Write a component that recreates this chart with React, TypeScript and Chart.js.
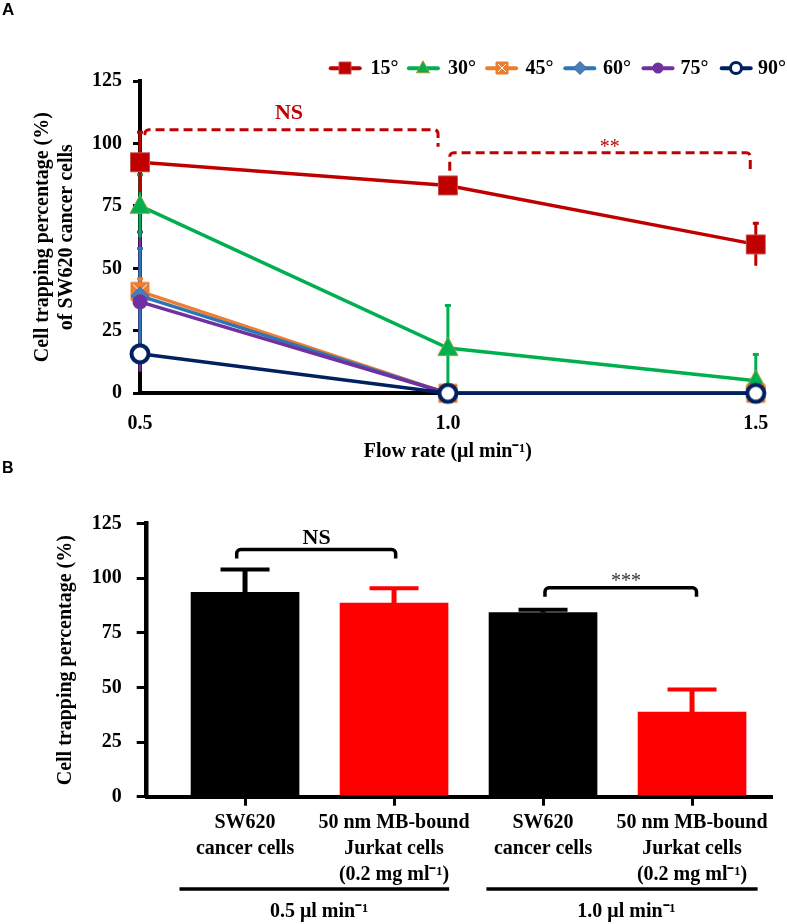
import React, { useEffect, useRef } from "react";
import { Chart, registerables } from "chart.js";

Chart.register(...registerables);

const SERIF = "'Liberation Serif', 'Times New Roman', Times, serif";

// ---------------- Panel A data ----------------
const flowRates = [0.5, 1.0, 1.5];
const angleLabels = ["15°", "30°", "45°", "60°", "75°", "90°"];
const trapping15 = [92.5, 83.2, 59.6];
const trapping30 = [75.0, 18.1, 5.0];
const trapping45 = [40.8, 0, 0];
const trapping60 = [39.0, 0, 0];
const trapping75 = [36.6, 0, 0];
const trapping90 = [15.8, 0, 0];
const error15 = [12.0, 2.0, 8.5];
const error30 = [12.5, 17.0, 10.5];
const error45 = [5.0, 0, 0];
const error60 = [19.0, 0, 0];
const error75 = [28.0, 0, 0];
const error90 = [2.0, 0, 0];
const flowTicksA = [0.5, 1.0, 1.5];
const percentTicks = [0, 25, 50, 75, 100, 125];

const valuesA = [trapping15, trapping30, trapping45, trapping60, trapping75, trapping90];
const errorsA = [error15, error30, error45, error60, error75, error90];
const angleColors = ["#C00000", "#00B050", "#ED7D31", "#2E75B6", "#7030A0", "#002060"];

const sigA = [
  { label: "NS", from: 0.508, to: 0.984, top: 105.5, leftEnd: 104.4, rightEnd: 98.7, textX: 0.742, textY: 112, font: `bold 22px ${SERIF}` },
  { label: "**", from: 1.003, to: 1.491, top: 96.3, leftEnd: 89.1, rightEnd: 89.6, textX: 1.263, textY: 98.2, font: `20px ${SERIF}` },
];

// ---------------- Panel B data ----------------
const cellGroups = [
  ["SW620", "cancer cells"],
  ["50 nm MB-bound", "Jurkat cells", "(0.2 mg ml⁻¹)"],
  ["SW620", "cancer cells"],
  ["50 nm MB-bound", "Jurkat cells", "(0.2 mg ml⁻¹)"],
];
const barPositions = [0, 1, 2, 3];
const trappingB = [93.6, 88.6, 84.3, 38.7];
const errorB = [10.4, 6.8, 1.3, 10.4];
const barColorsB = ["#000000", "#FF0000", "#000000", "#FF0000"];
const flowGroupLabels = ["0.5 μl min⁻¹", "1.0 μl min⁻¹"];
const flowGroupSpans = [[-0.44, 1.37], [1.62, 3.44]];
const flowGroupCenters = [0.497, 2.56];

const sigB = [
  { label: "NS", from: -0.056, to: 1.011, top: 113.2, leftEnd: 109.1, rightEnd: 109.1, textX: 0.48, textY: 118.4, font: `bold 22px ${SERIF}`, color: "#000" },
  { label: "***", from: 2.013, to: 3.03, top: 95.7, leftEnd: 91.5, rightEnd: 91.5, textX: 2.557, textY: 98.2, font: `20px ${SERIF}`, color: "#333" },
];

// ---------------- helpers ----------------
function makeMarker(kind: string, size: number, fill: string, stroke: string, lw = 1): HTMLCanvasElement {
  const s = 2 * Math.ceil(size / 2) + 4;
  const c = document.createElement("canvas");
  c.width = s;
  c.height = s;
  const g = c.getContext("2d")!;
  const m = s / 2;
  const h = size / 2;
  g.lineWidth = lw;
  g.fillStyle = fill;
  g.strokeStyle = stroke;
  g.beginPath();
  if (kind === "square" || kind === "squareX") {
    g.rect(m - h, m - h, size, size);
    g.fill();
    g.stroke();
    if (kind === "squareX") {
      g.beginPath();
      g.strokeStyle = "#ffffff";
      g.lineWidth = 1;
      g.moveTo(m - h + 2, m - h + 2);
      g.lineTo(m + h - 2, m + h - 2);
      g.moveTo(m + h - 2, m - h + 2);
      g.lineTo(m - h + 2, m + h - 2);
      g.stroke();
    }
  } else if (kind === "triangle") {
    const H = size * 0.92;
    g.moveTo(m, m - H * 0.6);
    g.lineTo(m + h, m + H * 0.4);
    g.lineTo(m - h, m + H * 0.4);
    g.closePath();
    g.fill();
    g.stroke();
  } else if (kind === "diamond") {
    g.moveTo(m, m - h);
    g.lineTo(m + h, m);
    g.lineTo(m, m + h);
    g.lineTo(m - h, m);
    g.closePath();
    g.fill();
    g.stroke();
  } else if (kind === "dot") {
    g.arc(m, m, h, 0, Math.PI * 2);
    g.fill();
  } else if (kind === "ring") {
    g.arc(m, m, h - lw / 2, 0, Math.PI * 2);
    g.fillStyle = "#ffffff";
    g.fill();
    g.stroke();
  }
  return c;
}

function buildMarkers(big: boolean): HTMLCanvasElement[] {
  return [
    makeMarker("square", big ? 19 : 12, "#C00000", "#C65050", 1),
    makeMarker("triangle", big ? 20 : 13, "#00B050", "#9A9A3A", 1),
    makeMarker("squareX", big ? 18 : 12, "#ED7D31", "#ED7D31", 1),
    makeMarker("diamond", big ? 18 : 13, "#4A7EBB", "#3A6EA8", 1),
    makeMarker("dot", big ? 15 : 11, "#7030A0", "#7030A0", 1),
    makeMarker("ring", big ? 21 : 14, "#ffffff", "#002060", big ? 4 : 3),
  ];
}

function drawSig(chart: any, list: any[], color: string | null, dash: number[], width: number) {
  const { ctx, scales } = chart;
  const x = scales.x;
  const y = scales.y;
  ctx.save();
  list.forEach((s) => {
    const x1 = x.getPixelForValue(s.from);
    const x2 = x.getPixelForValue(s.to);
    const yt = y.getPixelForValue(s.top);
    const yl = y.getPixelForValue(s.leftEnd);
    const yr = y.getPixelForValue(s.rightEnd);
    const c = color || "#000";
    ctx.beginPath();
    ctx.setLineDash(dash);
    ctx.lineWidth = width;
    ctx.strokeStyle = c;
    ctx.lineJoin = "round";
    ctx.moveTo(x1, yl);
    ctx.arcTo(x1, yt, x2, yt, 4);
    ctx.arcTo(x2, yt, x2, yr, 4);
    ctx.lineTo(x2, yr);
    ctx.stroke();
    ctx.setLineDash([]);
    ctx.fillStyle = s.color || c;
    ctx.font = s.font;
    ctx.textAlign = "center";
    ctx.textBaseline = "middle";
    ctx.fillText(s.label, x.getPixelForValue(s.textX), y.getPixelForValue(s.textY));
  });
  ctx.restore();
}

const boldFont = (size: number, lineHeight = 1.2) => ({ family: SERIF, size, weight: "bold" as const, lineHeight });

export default function App() {
  const refA = useRef<HTMLCanvasElement>(null);
  const refB = useRef<HTMLCanvasElement>(null);

  useEffect(() => {
    const bigMarkers = buildMarkers(true);
    const smallMarkers = buildMarkers(false);

    const errorBarsA = {
      id: "errorBarsA",
      beforeDatasetsDraw(chart: any) {
        const { ctx, scales } = chart;
        ctx.save();
        for (let i = valuesA.length - 1; i >= 0; i--) {
          ctx.strokeStyle = angleColors[i];
          ctx.lineWidth = 3;
          flowRates.forEach((fr, j) => {
            const e = errorsA[i][j];
            if (!e) return;
            const v = valuesA[i][j];
            const px = scales.x.getPixelForValue(fr);
            const top = scales.y.getPixelForValue(v + e);
            const bot = scales.y.getPixelForValue(Math.max(0, v - e));
            ctx.beginPath();
            ctx.moveTo(px, top);
            ctx.lineTo(px, bot);
            ctx.moveTo(px - 3, top);
            ctx.lineTo(px + 3, top);
            ctx.stroke();
          });
        }
        ctx.restore();
      },
    };

    const legendA = {
      id: "legendA",
      afterDraw(chart: any) {
        const ctx = chart.ctx;
        const y0 = 68.3;
        ctx.save();
        chart.data.datasets.forEach((ds: any, i: number) => {
          const x = 330.7 + i * 78.2;
          ctx.beginPath();
          ctx.strokeStyle = ds.borderColor;
          ctx.lineWidth = 4;
          ctx.lineCap = "round";
          ctx.moveTo(x, y0);
          ctx.lineTo(x + 29, y0);
          ctx.stroke();
          const mk = smallMarkers[i];
          ctx.drawImage(mk, Math.round(x + 14.5 - mk.width / 2), Math.round(y0 - mk.height / 2));
          ctx.fillStyle = "#000";
          ctx.font = `bold 20px ${SERIF}`;
          ctx.textAlign = "left";
          ctx.textBaseline = "middle";
          ctx.fillText(ds.label, 370.5 + i * 77.5, y0 + 1);
        });
        ctx.restore();
      },
    };

    const sigPluginA = {
      id: "sigA",
      afterDatasetsDraw(chart: any) {
        drawSig(chart, sigA, "#C00000", [9, 5], 3);
      },
    };

    const chartA = new Chart(refA.current!, {
      type: "line",
      data: {
        datasets: angleLabels.map((label, i) => ({
          label,
          data: flowRates.map((fr, j) => ({ x: fr, y: valuesA[i][j] })),
          borderColor: angleColors[i],
          backgroundColor: angleColors[i],
          borderWidth: 3.5,
          pointStyle: bigMarkers[i] as any,
          pointRadius: 9,
          pointHoverRadius: 9,
          tension: 0,
          clip: false as any,
          order: 5 - i,
        })),
      },
      options: {
        animation: false,
        responsive: false,
        events: [],
        layout: { padding: { top: 81, right: 20.3, left: 0, bottom: 0 } },
        plugins: { legend: { display: false }, tooltip: { enabled: false } },
        scales: {
          x: {
            type: "linear",
            min: 0.5,
            max: 1.5,
            afterBuildTicks: (s: any) => {
              s.ticks = flowTicksA.map((v) => ({ value: v }));
            },
            ticks: {
              callback: (v: any) => Number(v).toFixed(1),
              font: boldFont(20),
              color: "#000",
              padding: 18.7,
              maxRotation: 0,
            },
            grid: { display: true, drawOnChartArea: false, drawTicks: false },
            border: { display: true, color: "#000", width: 4 },
            title: {
              display: true,
              text: "Flow rate (μl min⁻¹)",
              font: boldFont(20),
              color: "#000",
              padding: { top: 0, bottom: 6 },
            },
            afterFit: (s: any) => {
              s.height = 76.7;
            },
          },
          y: {
            min: 0,
            max: 125,
            afterBuildTicks: (s: any) => {
              s.ticks = percentTicks.map((v) => ({ value: v }));
            },
            ticks: { font: boldFont(20), color: "#000", padding: 11 },
            grid: { drawOnChartArea: false, drawTicks: true, tickLength: 7, lineWidth: 3, color: "#000" },
            border: { display: true, color: "#000", width: 4 },
            title: {
              display: true,
              text: ["Cell trapping percentage (%)", "of SW620 cancer cells"],
              font: boldFont(20, 1.17),
              color: "#000",
              padding: { top: 31.6, bottom: 0 },
            },
            afterFit: (s: any) => {
              s.width = 140;
            },
          },
        },
      } as any,
      plugins: [errorBarsA, sigPluginA, legendA],
    });

    const errorBarsB = {
      id: "errorBarsB",
      afterDatasetsDraw(chart: any) {
        const { ctx, scales } = chart;
        ctx.save();
        barPositions.forEach((p, i) => {
          const px = scales.x.getPixelForValue(p);
          const base = scales.y.getPixelForValue(trappingB[i]);
          const top = scales.y.getPixelForValue(trappingB[i] + errorB[i]);
          ctx.strokeStyle = barColorsB[i];
          ctx.lineWidth = 5;
          ctx.beginPath();
          ctx.moveTo(px, base);
          ctx.lineTo(px, top);
          ctx.stroke();
          ctx.lineWidth = 4;
          ctx.beginPath();
          ctx.moveTo(px - 24.5, top);
          ctx.lineTo(px + 24.5, top);
          ctx.stroke();
        });
        ctx.restore();
      },
    };

    const sigPluginB = {
      id: "sigB",
      afterDatasetsDraw(chart: any) {
        drawSig(chart, sigB, "#000", [], 3.5);
      },
    };

    const groupsB = {
      id: "groupsB",
      afterDraw(chart: any) {
        const { ctx, scales, chartArea } = chart;
        ctx.save();
        flowGroupLabels.forEach((label, g) => {
          const [a, b] = flowGroupSpans[g];
          const yl = chartArea.bottom + 92.3;
          ctx.beginPath();
          ctx.strokeStyle = "#000";
          ctx.lineWidth = 3.5;
          ctx.moveTo(scales.x.getPixelForValue(a), yl);
          ctx.lineTo(scales.x.getPixelForValue(b), yl);
          ctx.stroke();
          ctx.fillStyle = "#000";
          ctx.font = `bold 20px ${SERIF}`;
          ctx.textAlign = "center";
          ctx.textBaseline = "middle";
          ctx.fillText(label, scales.x.getPixelForValue(flowGroupCenters[g]), chartArea.bottom + 115.3);
        });
        ctx.restore();
      },
    };

    const chartB = new Chart(refB.current!, {
      type: "bar",
      data: {
        datasets: [
          {
            data: barPositions.map((p, i) => ({ x: p, y: trappingB[i] })),
            backgroundColor: barColorsB,
            borderWidth: 0,
            barThickness: 108,
          },
        ],
      },
      options: {
        animation: false,
        responsive: false,
        events: [],
        layout: { padding: { top: 53.7, right: 16, left: 0, bottom: 0 } },
        plugins: { legend: { display: false }, tooltip: { enabled: false } },
        scales: {
          x: {
            type: "linear",
            offset: false,
            min: -0.66,
            max: 3.53,
            afterBuildTicks: (s: any) => {
              s.ticks = barPositions.map((v) => ({ value: v }));
            },
            ticks: {
              callback: (v: any) => cellGroups[Math.round(Number(v))],
              font: boldFont(20, 1.3),
              color: "#000",
              padding: 4,
              maxRotation: 0,
              minRotation: 0,
              autoSkip: false,
            },
            grid: { offset: false, drawOnChartArea: false, drawTicks: true, tickLength: 9, lineWidth: 3, color: "#000" },
            border: { display: true, color: "#000", width: 4 },
            afterFit: (s: any) => {
              s.height = 127.3;
            },
          },
          y: {
            min: 0,
            max: 125,
            afterBuildTicks: (s: any) => {
              s.ticks = percentTicks.map((v) => ({ value: v }));
            },
            ticks: { font: boldFont(20), color: "#000", padding: 15 },
            grid: { drawOnChartArea: false, drawTicks: true, tickLength: 10, lineWidth: 3, color: "#000" },
            border: { display: true, color: "#000", width: 4.5 },
            title: {
              display: true,
              text: "Cell trapping percentage (%)",
              font: boldFont(20),
              color: "#000",
              padding: { top: 54, bottom: 0 },
            },
            afterFit: (s: any) => {
              s.width = 146.7;
            },
          },
        },
      } as any,
      plugins: [errorBarsB, sigPluginB, groupsB],
    });

    return () => {
      chartA.destroy();
      chartB.destroy();
    };
  }, []);

  const panelLabel: React.CSSProperties = {
    position: "absolute",
    left: 2,
    fontFamily: "'Liberation Sans', Arial, sans-serif",
    fontWeight: "bold",
    lineHeight: 1,
    color: "#000",
  };

  return (
    <div style={{ position: "absolute", left: 0, top: 0, width: 787, height: 924, background: "#fff" }}>
      <canvas
        ref={refA}
        width={787}
        height={470}
        style={{ position: "absolute", left: 0, top: 0, width: 787, height: 470, display: "block" }}
      />
      <canvas
        ref={refB}
        width={787}
        height={454}
        style={{ position: "absolute", left: 0, top: 470, width: 787, height: 454, display: "block" }}
      />
      <div style={{ ...panelLabel, top: 1, fontSize: 17 }}>A</div>
      <div style={{ ...panelLabel, top: 459.5, fontSize: 16 }}>B</div>
    </div>
  );
}
